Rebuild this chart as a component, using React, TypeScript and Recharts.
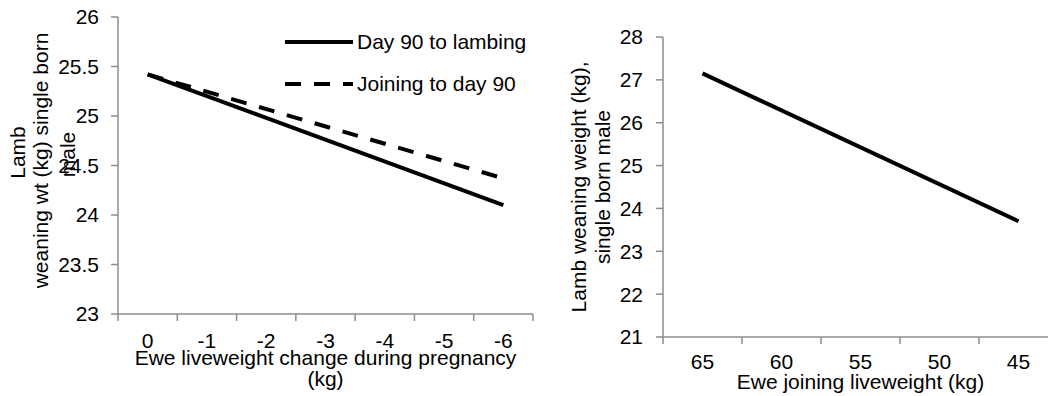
import React from 'react';
import { LineChart, Line, XAxis, YAxis, Legend } from 'recharts';

// Left panel: ewe liveweight change during pregnancy (kg)
const changeCategories = [0, -1, -2, -3, -4, -5, -6];
const changeEnds = [0, -6];
const dayNinetyToLambing = [25.42, 24.1];
const joiningToDayNinety = [25.42, 24.37];
const changeYTicks = [23, 23.5, 24, 24.5, 25, 25.5, 26];

// Right panel: ewe joining liveweight (kg)
const joiningCategories = [65, 60, 55, 50, 45];
const joiningEnds = [65, 45];
const weaningByJoiningWeight = [27.15, 23.7];
const joiningYTicks = [21, 22, 23, 24, 25, 26, 27, 28];

const FONT = '"Liberation Sans", Arial, sans-serif';
const FONT_SIZE = 21;
const AXIS = '#8c8c8c';
const TICK_SIZE = 7;
const TICK_MARGIN = 12;

const seriesStyle: Record<string, { dash?: string }> = {
  'Day 90 to lambing': {},
  'Joining to day 90': { dash: '16 13' },
};

// Category axis drawn on a numeric scale: band edges get tick marks, centres get labels
function bandTicks(cats: number[]) {
  const half = (cats[0] - cats[1]) / 2;
  const edges = [cats[0] + half, ...cats.map((c) => c - half)];
  return { edges, ticks: [...edges, ...cats], domain: [Math.min(...edges), Math.max(...edges)] };
}

function BandTick(props: any) {
  const { x, y, payload, centers, margin } = props;
  const v = payload.value;
  if (centers.includes(v)) {
    return (
      <text x={x} y={y} dy="0.71em" textAnchor="middle" fontSize={FONT_SIZE} fill="#000" fontFamily={FONT}>
        {String(v)}
      </text>
    );
  }
  return (
    <line
      x1={x}
      x2={x}
      y1={y - margin - TICK_SIZE}
      y2={y - margin}
      stroke={AXIS}
      strokeWidth={1.5}
    />
  );
}

function VerticalTitle(props: any) {
  const { viewBox, lines } = props;
  if (!viewBox) return null;
  const cy = viewBox.y + viewBox.height / 2;
  return (
    <g>
      {lines.map((l: any, i: number) => {
        const x = viewBox.x + l.x;
        const y = cy + l.dy;
        return (
          <text
            key={i}
            x={x}
            y={y}
            transform={`rotate(-90, ${x}, ${y})`}
            textAnchor="middle"
            fontSize={FONT_SIZE}
            fill="#000"
            fontFamily={FONT}
          >
            {l.text}
          </text>
        );
      })}
    </g>
  );
}

function HorizontalTitle(props: any) {
  const { viewBox, lines } = props;
  if (!viewBox) return null;
  const cx = viewBox.x + viewBox.width / 2;
  return (
    <g>
      {lines.map((l: any, i: number) => (
        <text
          key={i}
          x={cx}
          y={viewBox.y + l.dy}
          textAnchor="middle"
          fontSize={FONT_SIZE}
          fill="#000"
          fontFamily={FONT}
        >
          {l.text}
        </text>
      ))}
    </g>
  );
}

function renderLegend(props: any) {
  const payload = props.payload || [];
  return (
    <div style={{ display: 'flex', flexDirection: 'column' }}>
      {payload.map((entry: any) => (
        <div key={entry.value} style={{ display: 'flex', alignItems: 'center', height: 42 }}>
          <svg width={68} height={42} style={{ display: 'block' }}>
            <line
              x1={0}
              x2={68}
              y1={21}
              y2={21}
              stroke="#000"
              strokeWidth={4}
              strokeDasharray={seriesStyle[entry.value]?.dash}
            />
          </svg>
          <span
            style={{
              marginLeft: 4,
              fontSize: FONT_SIZE,
              fontFamily: FONT,
              color: '#000',
              lineHeight: '42px',
              whiteSpace: 'nowrap',
            }}
          >
            {entry.value}
          </span>
        </div>
      ))}
    </div>
  );
}

const leftData = changeEnds.map((c, i) => ({
  change: c,
  late: dayNinetyToLambing[i],
  early: joiningToDayNinety[i],
}));

const rightData = joiningEnds.map((w, i) => ({
  joining: w,
  weaning: weaningByJoiningWeight[i],
}));

const leftBands = bandTicks(changeCategories);
const rightBands = bandTicks(joiningCategories);
const RIGHT_TICK_MARGIN = 10;

export default function App() {
  return (
    <div
      style={{
        position: 'fixed',
        left: 0,
        top: 0,
        width: 1048,
        height: 396,
        overflow: 'hidden',
        background: '#fff',
      }}
    >
      <div style={{ position: 'absolute', left: 0, top: 0 }}>
        <LineChart
          width={560}
          height={396}
          data={leftData}
          margin={{ top: 17, right: 27, bottom: 0, left: 0 }}
          style={{ fontFamily: FONT }}
        >
          <XAxis
            dataKey="change"
            type="number"
            domain={leftBands.domain}
            reversed
            ticks={leftBands.ticks}
            interval={0}
            height={82}
            tickSize={TICK_SIZE}
            tickMargin={TICK_MARGIN}
            tickLine={false}
            axisLine={{ stroke: AXIS, strokeWidth: 1.5 }}
            tick={(p: any) => <BandTick {...p} centers={changeCategories} margin={TICK_MARGIN} />}
            label={
              <HorizontalTitle
                lines={[
                  { text: 'Ewe liveweight change during pregnancy', dy: 51 },
                  { text: '(kg)', dy: 72 },
                ]}
              />
            }
          />
          <YAxis
            type="number"
            domain={[23, 26]}
            ticks={changeYTicks}
            interval={0}
            width={118}
            tickSize={TICK_SIZE}
            tickMargin={TICK_MARGIN}
            axisLine={{ stroke: AXIS, strokeWidth: 1.5 }}
            tickLine={{ stroke: AXIS, strokeWidth: 1.5 }}
            tick={{ fill: '#000', fontSize: FONT_SIZE, fontFamily: FONT }}
            label={
              <VerticalTitle
                lines={[
                  { text: 'Lamb', x: 25, dy: -13 },
                  { text: 'weaning wt (kg) single born', x: 48, dy: -5 },
                  { text: 'male', x: 75, dy: -11 },
                ]}
              />
            }
          />
          <Legend
            layout="vertical"
            align="center"
            verticalAlign="middle"
            content={renderLegend}
            wrapperStyle={{ position: 'absolute', left: 285, top: 21, width: 'auto', height: 'auto' }}
          />
          <Line
            name="Day 90 to lambing"
            dataKey="late"
            type="linear"
            stroke="#000"
            strokeWidth={4}
            dot={false}
            activeDot={false}
            isAnimationActive={false}
          />
          <Line
            name="Joining to day 90"
            dataKey="early"
            type="linear"
            stroke="#000"
            strokeWidth={4}
            strokeDasharray={seriesStyle['Joining to day 90'].dash}
            dot={false}
            activeDot={false}
            isAnimationActive={false}
          />
        </LineChart>
      </div>
      <div style={{ position: 'absolute', left: 560, top: 0 }}>
        <LineChart
          width={560}
          height={396}
          data={rightData}
          margin={{ top: 37, right: 62, bottom: 0, left: 0 }}
          style={{ fontFamily: FONT }}
        >
          <XAxis
            dataKey="joining"
            type="number"
            domain={rightBands.domain}
            reversed
            ticks={rightBands.ticks}
            interval={0}
            height={59}
            tickSize={TICK_SIZE}
            tickMargin={RIGHT_TICK_MARGIN}
            tickLine={false}
            axisLine={{ stroke: AXIS, strokeWidth: 1.5 }}
            tick={(p: any) => <BandTick {...p} centers={joiningCategories} margin={RIGHT_TICK_MARGIN} />}
            label={<HorizontalTitle lines={[{ text: 'Ewe joining liveweight (kg)', dy: 52 }]} />}
          />
          <YAxis
            type="number"
            domain={[21, 28]}
            ticks={joiningYTicks}
            interval={0}
            width={103}
            tickSize={TICK_SIZE}
            tickMargin={13}
            axisLine={{ stroke: AXIS, strokeWidth: 1.5 }}
            tickLine={{ stroke: AXIS, strokeWidth: 1.5 }}
            tick={{ fill: '#000', fontSize: FONT_SIZE, fontFamily: FONT }}
            label={
              <VerticalTitle
                lines={[
                  { text: 'Lamb weaning weight (kg),', x: 25.6, dy: 0 },
                  { text: 'single born male', x: 50, dy: 0 },
                ]}
              />
            }
          />
          <Line
            name="Ewe joining liveweight"
            dataKey="weaning"
            type="linear"
            stroke="#000"
            strokeWidth={4}
            dot={false}
            activeDot={false}
            isAnimationActive={false}
          />
        </LineChart>
      </div>
    </div>
  );
}
